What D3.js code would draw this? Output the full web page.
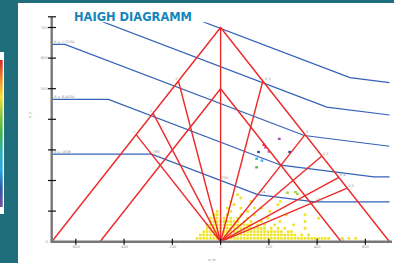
<!DOCTYPE html>
<html>
<head>
<meta charset="utf-8">
<script src="https://cdn.jsdelivr.net/npm/d3@7"></script>
<style>
  body { margin: 0; background: #206e7c; }
  svg { display: block; }
</style>
</head>
<body>
<div id="chart"></div>
<script>
// Haigh diagram data
var rm = 700          // outer static limit
var re = 500          // inner (yield) limit
var rValues = [-2, -5, -Infinity, -1, -0.5, 0, 0.2, 0.4, 0.5]
var rLabels = ["-2", "-5", "-\u221e", "", "-0,5", "0", "0,2", "0,4", "0,5"]

var xTicks = [-600, -400, -200, 0, 200, 400, 600]
var yTicks = [0, 100, 200, 300, 400, 500, 600, 700]
var yTickLabels = ["0", "", "", "", "", "500", "600", "700"]

// constant life lines, [sigma_m, sigma_a] vertices
var lineA = [[-700, 907], [536, 536], [700, 520]]
var lineB = [[-700, 782], [440, 440], [700, 414]]
var lineC = [[-700, 645], [-645, 645], [347, 347], [700, 312]]
var lineD = [[-700, 465], [-465, 465], [250, 250], [635, 212], [700, 212]]
var lineE = [[-700, 286], [-286, 286], [154, 154], [390, 130], [700, 130]]
var lineNames = ["", "", "N = 1,2E04", "N = 8,4E04", "N = 1E06"]
var lineELabels = [[-286, 286, "286"], [0, 200, "200"], [154, 154, "154"], [390, 130, "130"], [500, 0, "1"]]

// rainflow cloud, binned rows: [sigma_a, [sigma_m ...]]
var yellowRows = [
  [11, [-98, -84, -70, -56, -42, -28, -14, 0, 14, 28, 42, 56, 70, 84, 98, 112, 126, 140, 154, 168, 182, 196, 210, 224, 238, 252, 266, 280, 294, 308, 322, 336, 350, 364, 378, 392, 406, 420, 434, 448, 504, 532, 560]],
  [22, [-84, -70, -56, -42, -28, -14, 0, 14, 28, 42, 56, 70, 84, 98, 112, 126, 140, 154, 168, 182, 196, 210, 224, 238, 252, 266, 280, 294, 308, 336, 364]],
  [33, [-70, -56, -42, -28, -14, 0, 14, 28, 42, 56, 70, 84, 98, 112, 126, 140, 154, 168, 182, 196, 210, 224, 238, 252, 280, 294]],
  [44, [-56, -42, -28, -14, 0, 14, 28, 42, 56, 70, 84, 98, 112, 126, 140, 154, 168, 182, 210, 238, 266, 350]],
  [55, [-56, -42, -28, -14, 0, 14, 28, 42, 56, 70, 84, 98, 112, 126, 154, 182, 224, 302]],
  [66, [-42, -28, -14, 0, 14, 28, 42, 56, 70, 98, 126, 168, 246, 350]],
  [77, [-42, -28, -14, 14, 42, 70, 112, 196, 406]],
  [88, [-28, -14, 28, 84, 140, 272, 350]],
  [99, [-14, 42, 112, 204]],
  [110, [28, 84, 140, 168]],
  [121, [56, 238]],
  [132, [42, 126, 248]],
  [143, [84]],
  [154, [70]]
]
var coloredPts = [
  [243, 336, "#9a52a6"], [179, 316, "#e8305e"], [186, 308, "#e0409a"], [200, 294, "#c860b0"],
  [157, 293, "#2a4c9c"], [286, 293, "#2a4c9c"], [149, 271, "#2eb6ea"], [171, 265, "#2eb6ea"],
  [149, 243, "#4fb54a"], [277, 160, "#a9cf3c"], [310, 162, "#a9cf3c"], [318, 156, "#a9cf3c"]
]
var colorbarStops = ["#d7262b", "#f08a2a", "#f2df2e", "#8cc63f", "#3fb54a", "#2fb0b8", "#2aa7e0", "#2c5ba8", "#7b4f9e"]

var W = 394, H = 263
var svg = d3.select("#chart").append("svg").attr("width", W).attr("height", H)

// white panel + cut off colorbar at the left
svg.append("rect").attr("x", 18).attr("y", 3).attr("width", W - 18).attr("height", H - 3).attr("fill", "#fff")
var grad = svg.append("defs").append("linearGradient").attr("id", "cbar").attr("x1", 0).attr("x2", 0).attr("y1", 0).attr("y2", 1)
grad.selectAll("stop").data(colorbarStops).enter().append("stop")
  .attr("offset", (d, i) => i / (colorbarStops.length - 1))
  .attr("stop-color", d => d)
svg.append("rect").attr("x", 0).attr("y", 52).attr("width", 4).attr("height", 162).attr("fill", "#fff")
svg.append("rect").attr("x", 0).attr("y", 60).attr("width", 2.7).attr("height", 147).attr("fill", "url(#cbar)")

const x = d3.scaleLinear().domain([-700, 700]).range([51.7, 389.5])
const y = d3.scaleLinear().domain([0, 700]).range([241.7, 27.5])

svg.append("defs").append("clipPath").attr("id", "plotclip")
  .append("rect").attr("x", x(-700)).attr("y", y(717)).attr("width", W - x(-700)).attr("height", y(0) - y(717) + 2)

// title
svg.append("text").attr("x", 74).attr("y", 20.8)
  .attr("textLength", 118).attr("lengthAdjust", "spacingAndGlyphs")
  .attr("style", "font-family:'DejaVu Sans';font-weight:700;font-size:11.4px;fill:#1786bb;")
  .text("HAIGH DIAGRAMM")

var line = d3.line().x(d => x(d[0])).y(d => y(d[1]))

// rainflow points
var yellowPts = []
yellowRows.forEach(r => r[1].forEach(m => yellowPts.push([m, r[0]])))
svg.append("g").selectAll("rect").data(yellowPts).enter().append("rect")
  .attr("x", d => x(d[0]) - 1.4).attr("y", d => y(d[1]) - 1.4)
  .attr("width", 2.8).attr("height", 2.8).attr("rx", 0.9)
  .attr("fill", "#efe52c")
svg.append("g").selectAll("rect").data(coloredPts).enter().append("rect")
  .attr("x", d => x(d[0]) - 1.3).attr("y", d => y(d[1]) - 1.2)
  .attr("width", 2.7).attr("height", 2.3)
  .attr("fill", d => d[2])

// constant life lines
var blue = svg.append("g").attr("clip-path", "url(#plotclip)")
blue.selectAll("path").data([lineA, lineB, lineC, lineD, lineE]).enter().append("path")
  .attr("d", line).attr("fill", "none").attr("stroke", "#3462b6").attr("stroke-width", 1.2)

// red limit triangles and R rays
function rayEnd (R) {
  if (R === -1) return [0, rm]
  var k = R === -Infinity ? -1 : (1 - R) / (1 + R)
  var s = rm / (1 + Math.abs(k))
  return [k < 0 ? -s : s, Math.abs(k) * s]
}
var red = svg.append("g").attr("fill", "none").attr("stroke", "#ec2a2a").attr("stroke-width", 1.4)
red.append("path").attr("d", line([[-rm, 0], [0, rm], [rm, 0]]))
red.append("path").attr("d", line([[-re, 0], [0, re], [re, 0]]))
red.selectAll(".ray").data(rValues).enter().append("path").attr("class", "ray")
  .attr("d", d => line([[0, 0], rayEnd(d)]))

// small labels
var lab = "font-family:'DejaVu Sans';font-size:3.6px;fill:#999;"
svg.append("g").selectAll("text").data(rValues).enter().append("text")
  .attr("x", d => x(rayEnd(d)[0]) + (rayEnd(d)[0] < 0 ? -0.5 : 1))
  .attr("y", d => y(rayEnd(d)[1]) - 1.5)
  .attr("text-anchor", d => rayEnd(d)[0] < 0 ? "end" : "start")
  .attr("style", lab)
  .text((d, i) => rLabels[i])
svg.append("g").selectAll("text").data(lineELabels).enter().append("text")
  .attr("x", d => x(d[0]) + 1).attr("y", d => y(d[1]) - 1.2)
  .attr("style", lab).text(d => d[2])
svg.append("g").selectAll("text").data([lineC, lineD, lineE]).enter().append("text")
  .attr("x", x(-700) + 2).attr("y", d => y(d[0][1]) - 1)
  .attr("style", lab).text((d, i) => lineNames[i + 2])

// axes
var axis = svg.append("g")
axis.append("line").attr("x1", x(-700)).attr("x2", x(-700)).attr("y1", y(735)).attr("y2", y(0) + 1)
  .attr("stroke", "#777").attr("stroke-width", 2.4)
axis.append("line").attr("x1", x(-700) - 1).attr("x2", 392).attr("y1", y(0)).attr("y2", y(0))
  .attr("stroke", "#777").attr("stroke-width", 2.4)
axis.selectAll(".yt").data(yTicks.slice(1).concat([735])).enter().append("line").attr("class", "yt")
  .attr("x1", x(-700) - 3.7).attr("x2", x(-700) + 4.3)
  .attr("y1", d => y(d)).attr("y2", d => y(d))
  .attr("stroke", "#111").attr("stroke-width", 1.2)
axis.selectAll(".xt").data(xTicks).enter().append("line").attr("class", "xt")
  .attr("x1", d => x(d)).attr("x2", d => x(d))
  .attr("y1", y(0) - 3).attr("y2", y(0) + 3)
  .attr("stroke", "#111").attr("stroke-width", 1.2)
axis.selectAll(".yl").data(yTicks).enter().append("text").attr("class", "yl")
  .attr("x", x(-700) - 4).attr("y", d => y(d) + 1.2)
  .attr("text-anchor", "end").attr("style", lab)
  .text((d, i) => yTickLabels[i])
axis.selectAll(".xl").data(xTicks).enter().append("text").attr("class", "xl")
  .attr("x", d => x(d)).attr("y", y(0) + 6)
  .attr("text-anchor", "middle").attr("style", lab)
  .text(d => d)
axis.append("text").attr("x", 212).attr("y", 260.5).attr("text-anchor", "middle").attr("style", lab).text("\u03c3_m")
axis.append("text").attr("transform", "translate(31,115) rotate(-90)").attr("text-anchor", "middle").attr("style", lab).text("\u03c3_a")
</script>
</body>
</html>
